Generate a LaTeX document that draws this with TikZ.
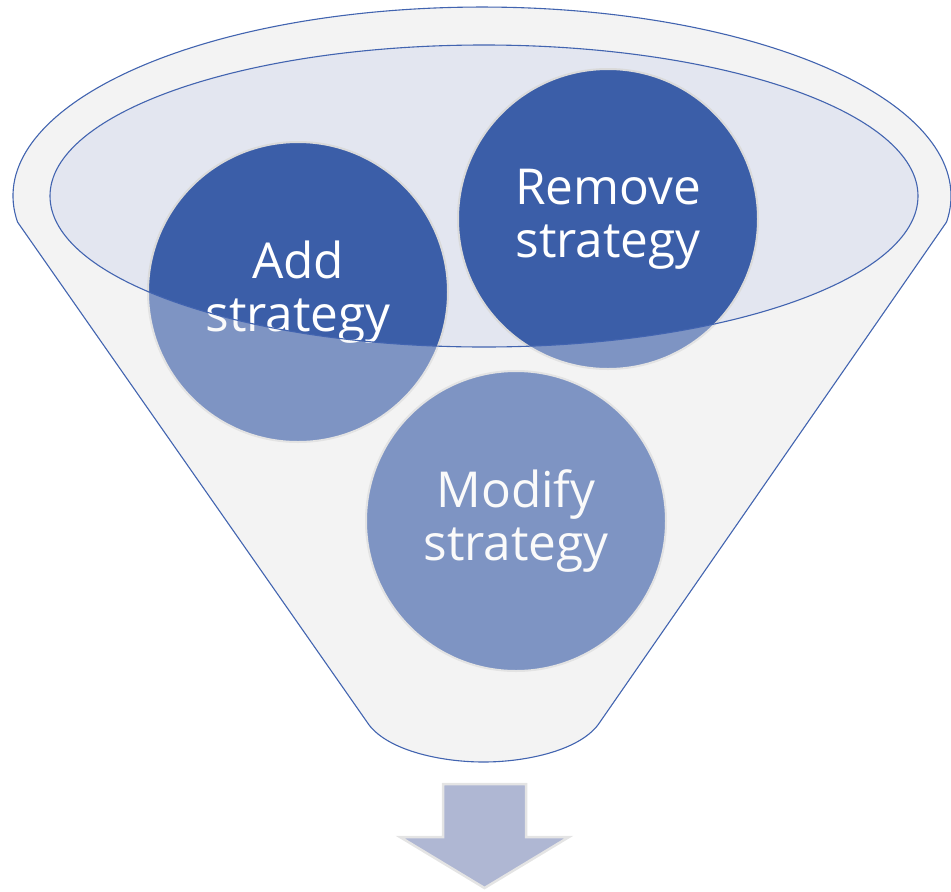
\documentclass[tikz,border=0pt]{standalone}
\usepackage{fontspec}
\setmainfont{Open Sans}
\definecolor{fbody}{HTML}{F4F4F4}
\definecolor{finner}{HTML}{E3E6F0}
\definecolor{cdark}{HTML}{3B5EA8}
\definecolor{crim}{HTML}{DADADA}
\definecolor{fover}{HTML}{F3F3F3}
\definecolor{fline}{HTML}{4264B0}
\definecolor{arrfill}{HTML}{AFB7D3}
\definecolor{arrrim}{HTML}{E4E4E4}
\newcommand{\funnelshape}{(17.5,222) arc[start angle=172.1, end angle=367.9, x radius=469, y radius=189] -- (600,722) .. controls (582,750) and (527,762) .. (483.5,762) .. controls (440,762) and (385,750) .. (367,722) -- cycle}
\newcommand{\innerell}{(484,196) ellipse [x radius=434, y radius=151]}
\begin{document}
\begin{tikzpicture}[x=1pt,y=-1pt,
  outline/.style={draw=fline, line width=1.1pt},
  stratcircle/.style={circle, minimum size=300pt, inner sep=0pt, fill=cdark, draw=crim, line width=2pt, text=white, align=center, font=\fontsize{49.5}{53}\selectfont},
  downarrow/.style={fill=arrfill, draw=arrrim, line width=2.5pt, line join=miter}
]
\useasboundingbox (0,0) rectangle (951,892);
% funnel body and opening
\path[fill=fbody] \funnelshape;
\path[fill=finner] \innerell;
% strategy circles
\node[stratcircle] (add) at (298,292) {Add\\strategy};
\node[stratcircle] (remove) at (608,219) {Remove\\strategy};
\node[stratcircle] (modify) at (516,521) {Modify\\strategy};
% translucent front of the funnel
\path[fill=fover, fill opacity=0.37, even odd rule] \funnelshape \innerell;
% outlines
\path[outline] \funnelshape;
\path[outline] \innerell;
% arrow below
\path[downarrow] (443,784) -- (526,784) -- (526,837) -- (569,837) -- (484.5,888) -- (400,837) -- (443,837) -- cycle;
\end{tikzpicture}
\end{document}
